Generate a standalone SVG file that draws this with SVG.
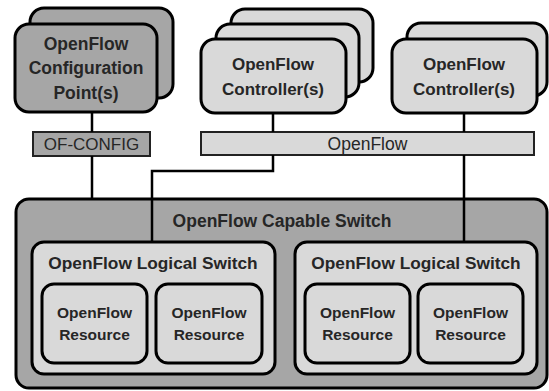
<svg xmlns="http://www.w3.org/2000/svg" width="549" height="391" viewBox="0 0 549 391">
<style>
.dk{fill:#a6a6a6;stroke:#000;stroke-width:3}
.lt{fill:#d9d9d9;stroke:#000;stroke-width:3}
.bar{stroke:#222;stroke-width:2}
.lbl{font-family:"Liberation Sans",Arial,sans-serif;font-weight:bold;fill:#262626;text-anchor:middle}
.reg{font-family:"Liberation Sans",Arial,sans-serif;fill:#262626;text-anchor:middle}
.conn{fill:none;stroke:#000;stroke-width:2.5}
</style>
<rect width="549" height="391" fill="#fff"/>
<g id="capable-switch">
<rect class="dk" x="16" y="199" width="531" height="189" rx="13"/>
<text class="lbl" x="282" y="227" font-size="17.5">OpenFlow Capable Switch</text>
</g>
<g id="config-point">
<rect class="dk" x="30" y="8" width="143" height="90" rx="14"/>
<rect class="dk" x="15" y="24" width="142" height="88" rx="14"/>
<text class="lbl" x="86" y="50" font-size="17.5">OpenFlow</text>
<text class="lbl" x="86" y="74" font-size="17.5">Configuration</text>
<text class="lbl" x="86" y="99" font-size="17.5">Point(s)</text>
</g>
<g id="controller-1">
<rect class="lt" x="231" y="9" width="142" height="73" rx="14"/>
<rect class="lt" x="216" y="24" width="143" height="73" rx="14"/>
<rect class="lt" x="201" y="39" width="145" height="74" rx="14"/>
<text class="lbl" x="273" y="70" font-size="17">OpenFlow</text>
<text class="lbl" x="273" y="95" font-size="17">Controller(s)</text>
</g>
<g id="controller-2">
<rect class="lt" x="407" y="23" width="140" height="73" rx="14"/>
<rect class="lt" x="392" y="39" width="145" height="74" rx="14"/>
<text class="lbl" x="464" y="70" font-size="17">OpenFlow</text>
<text class="lbl" x="464" y="95" font-size="17">Controller(s)</text>
</g>
<g id="of-config">
<rect class="bar" x="33" y="132" width="117" height="24" fill="#a6a6a6"/>
<text class="reg" x="91.5" y="150" font-size="17">OF-CONFIG</text>
</g>
<g id="openflow-bar">
<rect class="bar" x="201" y="132" width="333" height="23" fill="#d9d9d9"/>
<text class="reg" x="367.5" y="150" font-size="17.5">OpenFlow</text>
</g>
<g id="logical-switch-1">
<rect class="lt" x="32" y="242" width="243" height="132" rx="12"/>
<text class="lbl" x="153" y="269" font-size="17.3">OpenFlow Logical Switch</text>
</g>
<g id="logical-switch-2">
<rect class="lt" x="295" y="242" width="242" height="132" rx="12"/>
<text class="lbl" x="416" y="269" font-size="17.3">OpenFlow Logical Switch</text>
</g>
<g id="resource-1">
<rect class="lt" x="42" y="284" width="105" height="79" rx="12"/>
<text class="lbl" x="94.5" y="318" font-size="15.5">OpenFlow</text>
<text class="lbl" x="94.5" y="340" font-size="15.5">Resource</text>
</g>
<g id="resource-2">
<rect class="lt" x="156" y="284" width="106" height="79" rx="12"/>
<text class="lbl" x="209" y="318" font-size="15.5">OpenFlow</text>
<text class="lbl" x="209" y="340" font-size="15.5">Resource</text>
</g>
<g id="resource-3">
<rect class="lt" x="305" y="284" width="105" height="79" rx="12"/>
<text class="lbl" x="357.5" y="318" font-size="15.5">OpenFlow</text>
<text class="lbl" x="357.5" y="340" font-size="15.5">Resource</text>
</g>
<g id="resource-4">
<rect class="lt" x="418" y="284" width="105" height="79" rx="12"/>
<text class="lbl" x="470.5" y="318" font-size="15.5">OpenFlow</text>
<text class="lbl" x="470.5" y="340" font-size="15.5">Resource</text>
</g>
<g id="connectors">
<path class="conn" d="M92,112V132M92,156V198"/>
<path class="conn" d="M273,113V132M273,155V171H152V241"/>
<path class="conn" d="M464,113V132M464,155V241"/>
</g>
</svg>
